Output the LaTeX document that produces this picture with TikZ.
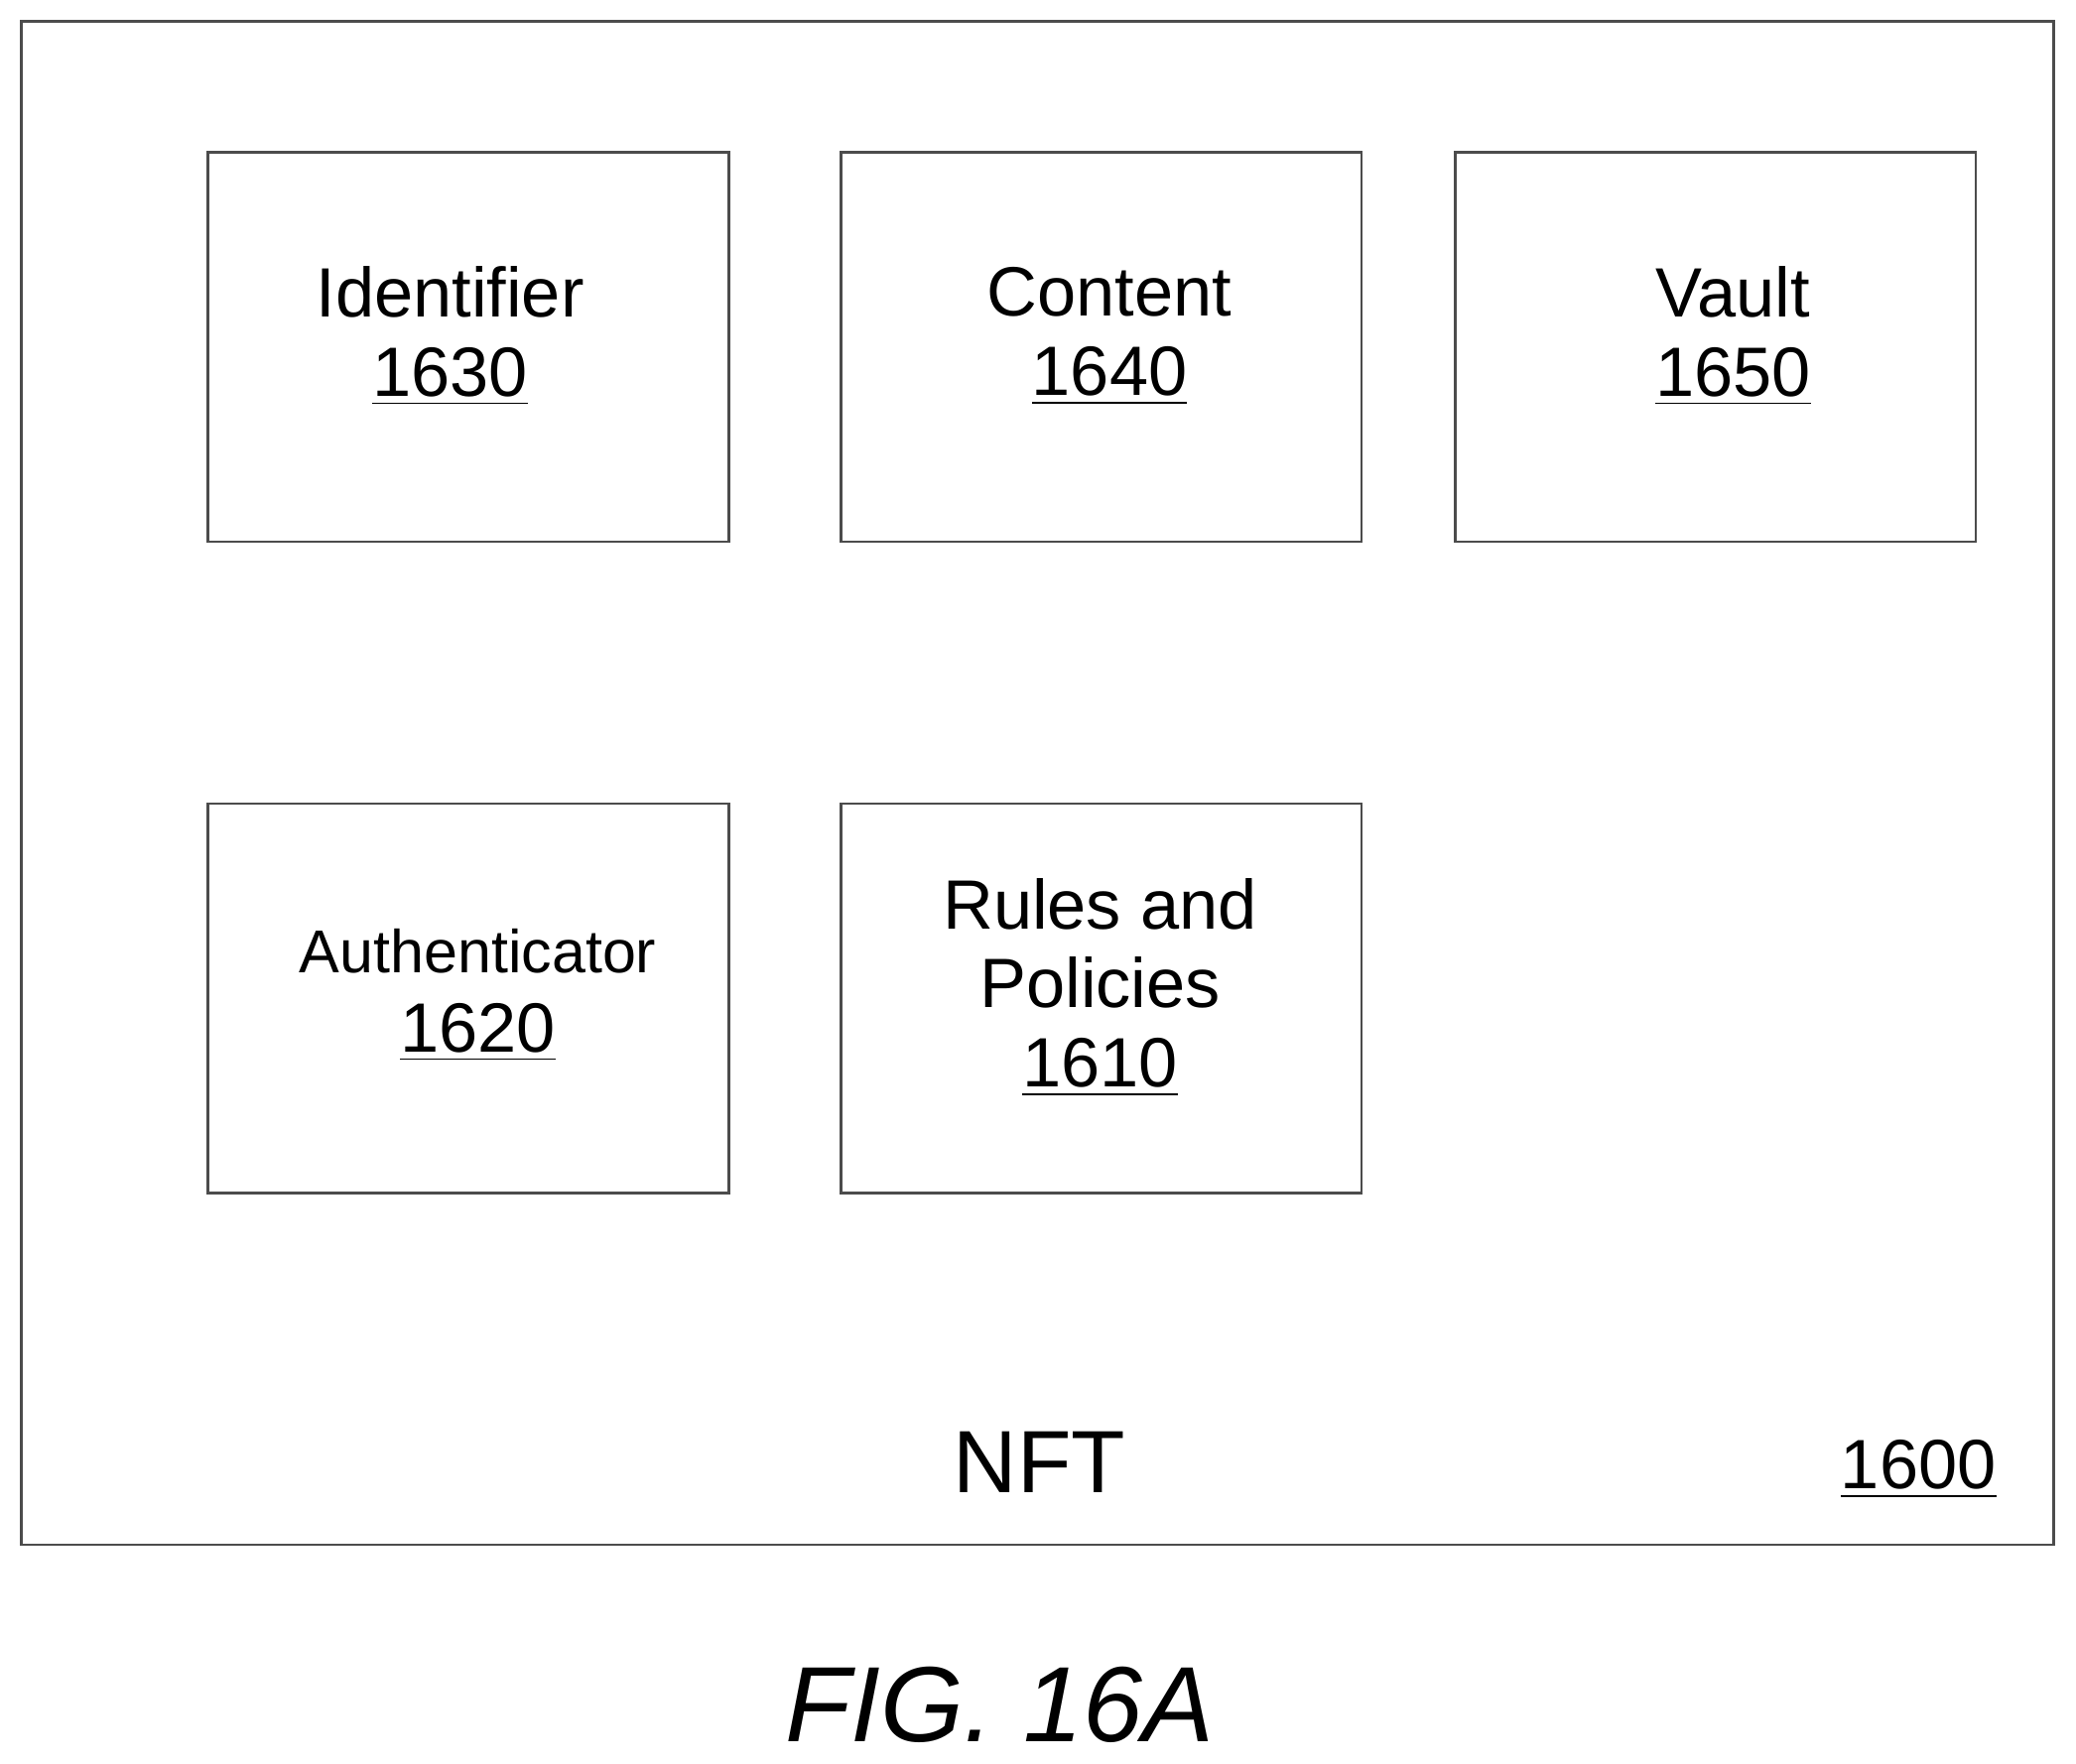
\documentclass[tikz,border=0pt]{standalone}
\usepackage{fontspec}
\setmainfont{Liberation Sans}
\begin{document}
\begin{tikzpicture}[x=0.01cm,y=-0.01cm,
	part/.style={draw=black!70,line width=0.6pt,minimum width=3.93cm,minimum height=2.94cm,anchor=north west},
	lbl/.style={font=\fontsize{15}{17}\selectfont,align=center}]
		\useasboundingbox (0,0) rectangle (1568,1332);
		\draw[black!70,line width=0.6pt] (16,16) rectangle (1551,1167);

		\node[part] (ident) at (156,114) {};
		\node[part] (cont) at (634,114) {};
		\node[part] (vault) at (1098,114) {};
		\node[part] (auth) at (156,606) {};
		\node[part] (rules) at (634,606) {};

		\node[lbl] at (340,254) {Identifier\\\underline{1630}};
		\node[lbl] at (838,254) {Content\\\underline{1640}};
		\node[lbl] at (1309,254) {Vault\\\underline{1650}};
		\node[lbl,font=\fontsize{13}{17}\selectfont] at (361,752) {Authenticator\\\fontsize{15}{17}\selectfont\underline{1620}};
		\node[lbl] at (831,746) {Rules and\\Policies\\\underline{1610}};

		\node[font=\fontsize{19}{23}\selectfont] (nft) at (785,1105) {NFT};
		\node[font=\fontsize{15}{18}\selectfont] (num) at (1449,1110) {\underline{1600}};
		\node[font=\fontsize{23}{28}\selectfont\itshape] (fig) at (755,1288) {FIG. 16A};
	\end{tikzpicture}
\end{document}
